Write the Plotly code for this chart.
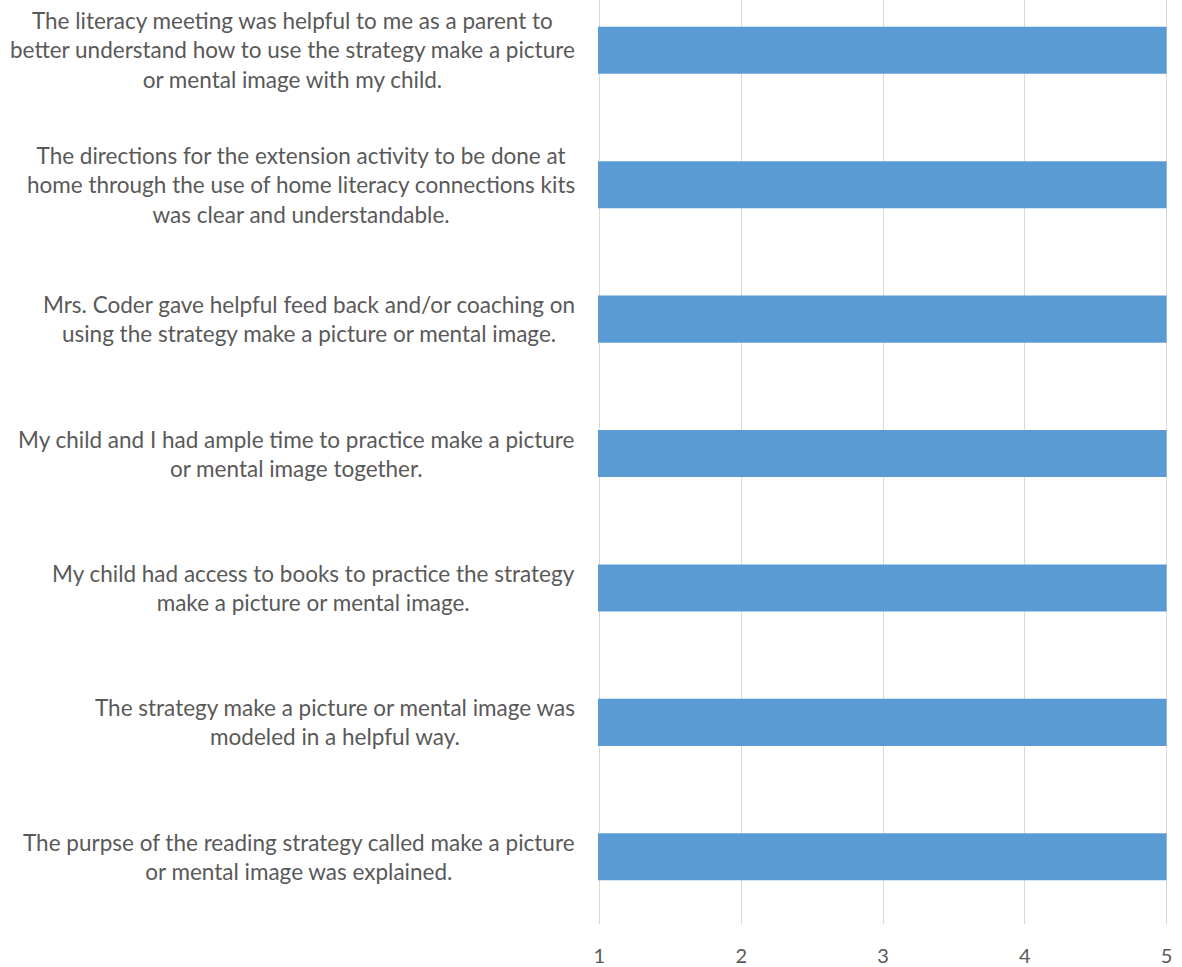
import plotly.graph_objects as go

categories = [
    "The purpse of the reading strategy called make a picture<br>or mental image was explained.",
    "The strategy make a picture or mental image was<br>modeled in a helpful way.",
    "My child had access to books to practice the strategy<br>make a picture or mental image.",
    "My child and I had ample time to practice make a picture<br>or mental image together.",
    "Mrs. Coder gave helpful feed back and/or coaching on<br>using the strategy make a picture or mental image.",
    "The directions for the extension activity to be done at<br>home through the use of home literacy connections kits<br>was clear and understandable.",
    "The literacy meeting was helpful to me as a parent to<br>better understand how to use the strategy make a picture<br>or mental image with my child.",
]
values = [5, 5, 5, 5, 5, 5, 5]
x_ticks = [1, 2, 3, 4, 5]

FONT = "Lato"
TXT = "#595959"

ypos = list(range(len(categories)))

fig = go.Figure()
fig.add_trace(go.Bar(
    x=values, y=ypos, orientation="h", width=0.35,
    marker=dict(color="#5b9bd5", line=dict(width=0)),
    hoverinfo="skip",
))

annotations = []
for i, lab in enumerate(categories):
    annotations.append(dict(
        x=0, xref="paper", y=i, yref="y", text=lab, showarrow=False,
        xanchor="right", yanchor="middle", align="center", xshift=-21,
        font=dict(family=FONT, size=22.5, color=TXT),
    ))

fig.update_layout(
    width=1182, height=967,
    margin=dict(l=598, r=14, t=0, b=43, autoexpand=False),
    paper_bgcolor="white", plot_bgcolor="white",
    showlegend=False,
    annotations=annotations,
    xaxis=dict(
        range=[0.99, 5.01], tickvals=x_ticks, ticktext=[str(t) for t in x_ticks],
        showgrid=True, gridcolor="#d9d9d9", gridwidth=1,
        zeroline=False, showline=False, ticks="",
        ticklabelstandoff=18, automargin=False,
        tickfont=dict(family=FONT, size=20, color=TXT),
    ),
    yaxis=dict(
        range=[-0.5, 6.374], showticklabels=False, showgrid=False,
        zeroline=False, showline=False, ticks="", automargin=False,
    ),
)

fig.write_html("out.html")
